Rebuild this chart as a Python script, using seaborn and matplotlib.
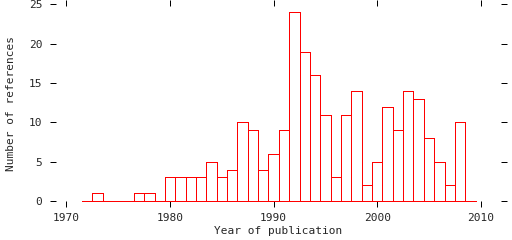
import matplotlib
matplotlib.use("Agg")
import matplotlib.pyplot as plt
import seaborn as sns
import pandas as pd

years = list(range(1972, 2010))
counts = [0, 1, 0, 0, 0, 1, 1, 0, 3, 3, 3, 3, 5, 3, 4, 10, 9, 4, 6, 9,
          24, 19, 16, 11, 3, 11, 14, 2, 5, 12, 9, 14, 13, 8, 5, 2, 10, 0]
x_ticks = [1970, 1980, 1990, 2000, 2010]
y_ticks = [0, 5, 10, 15, 20, 25]
x_label = "Year of publication"
y_label = "Number of references"

sns.set_style("white")
plt.rcParams['font.family'] = ['DejaVu Sans Mono', 'DejaVu Sans']
plt.rcParams['patch.antialiased'] = False
plt.rcParams['lines.antialiased'] = False

df = pd.DataFrame({"year": years, "count": counts})

fig = plt.figure(figsize=(5.12, 2.40), dpi=100)
ax = fig.add_axes([50/512, 33/240, 457/512, 207/240])

sns.histplot(data=df, x="year", weights="count", discrete=True, fill=False,
             element="bars", color="#ff0000", linewidth=0.72, ax=ax)

ax.set_xlim(1968.41, 2012.53)
ax.set_ylim(-0.76, 25.57)
ax.set_xticks(x_ticks)
ax.set_yticks(y_ticks)
for s in ax.spines.values():
    s.set_visible(False)
ax.tick_params(direction='in', top=True, right=True, bottom=True, left=True,
               length=4.3, width=0.72, color='black', labelsize=8,
               labeltop=False, labelright=False)
ax.tick_params(axis='x', pad=4.5)
ax.tick_params(axis='y', pad=5.5)
ax.set_xlabel(x_label, fontsize=8, labelpad=2)
ax.set_ylabel(y_label, fontsize=8, labelpad=9)
ax.grid(False)

fig.savefig("out.png", dpi=100)
